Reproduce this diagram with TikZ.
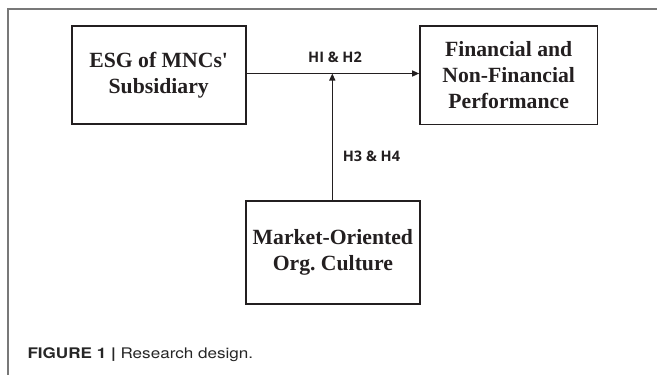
\documentclass[tikz,border=0pt]{standalone}
\usepackage{fontspec}
\setmainfont{Liberation Serif}
\setsansfont{TeX Gyre Heros}
\newfontfamily\labelfont{Open Sans}
\usetikzlibrary{arrows.meta}
\definecolor{ink}{RGB}{35,31,32}
\definecolor{framegray}{RGB}{120,120,120}
\frenchspacing
\begin{document}
\begin{tikzpicture}[x=1pt,y=-1pt,
  box/.style={draw=ink,line width=1.6pt,inner sep=0pt,align=center,text=ink,
    font=\fontsize{21.7}{26}\selectfont\bfseries},
  link/.style={draw=ink,line width=1.3pt},
  tip/.style={-{Triangle[length=7pt,width=6pt]}},
  hyp/.style={text=ink,inner sep=0pt,font=\labelfont\fontsize{14.5}{16}\selectfont\bfseries}]
\useasboundingbox (0,0) rectangle (657,375);
% open frame: left and top rules
\draw[framegray,line width=1.3pt] (8,375) -- (8,9) -- (657,9);
% boxes
\node[box,minimum width=174pt,minimum height=98.3pt] (esg) at (158.7,74.85) {ESG of MNCs\textquotesingle\\Subsidiary};
\node[box,minimum width=177.3pt,minimum height=98.6pt] (perf) at (508.65,75) {Financial and\\Non-Financial\\Performance};
\node[box,minimum width=174.3pt,minimum height=103pt] (moc) at (332.85,252.5) {Market-Oriented\\Org.\ Culture};
% connectors
\coordinate (join) at (332.3,73.5);
\draw[link,tip] (esg.east |- join) -- (perf.west |- join);
\draw[link,tip] (moc.north -| join) -- (join);
% hypothesis labels
\node[hyp,anchor=base] (h12) at (335,62.7) {HI \& H2};
\node[hyp,anchor=base west] (h34) at (342.7,161.7) {H3 \& H4};
% caption
\node[anchor=base west,inner sep=0pt,text=black!85] (cap) at (27.3,358.3)
  {\scalebox{1.17}[1]{\sffamily\fontsize{14.6}{16}\selectfont\textbf{FIGURE 1 |} Research design.}};
\end{tikzpicture}
\end{document}
